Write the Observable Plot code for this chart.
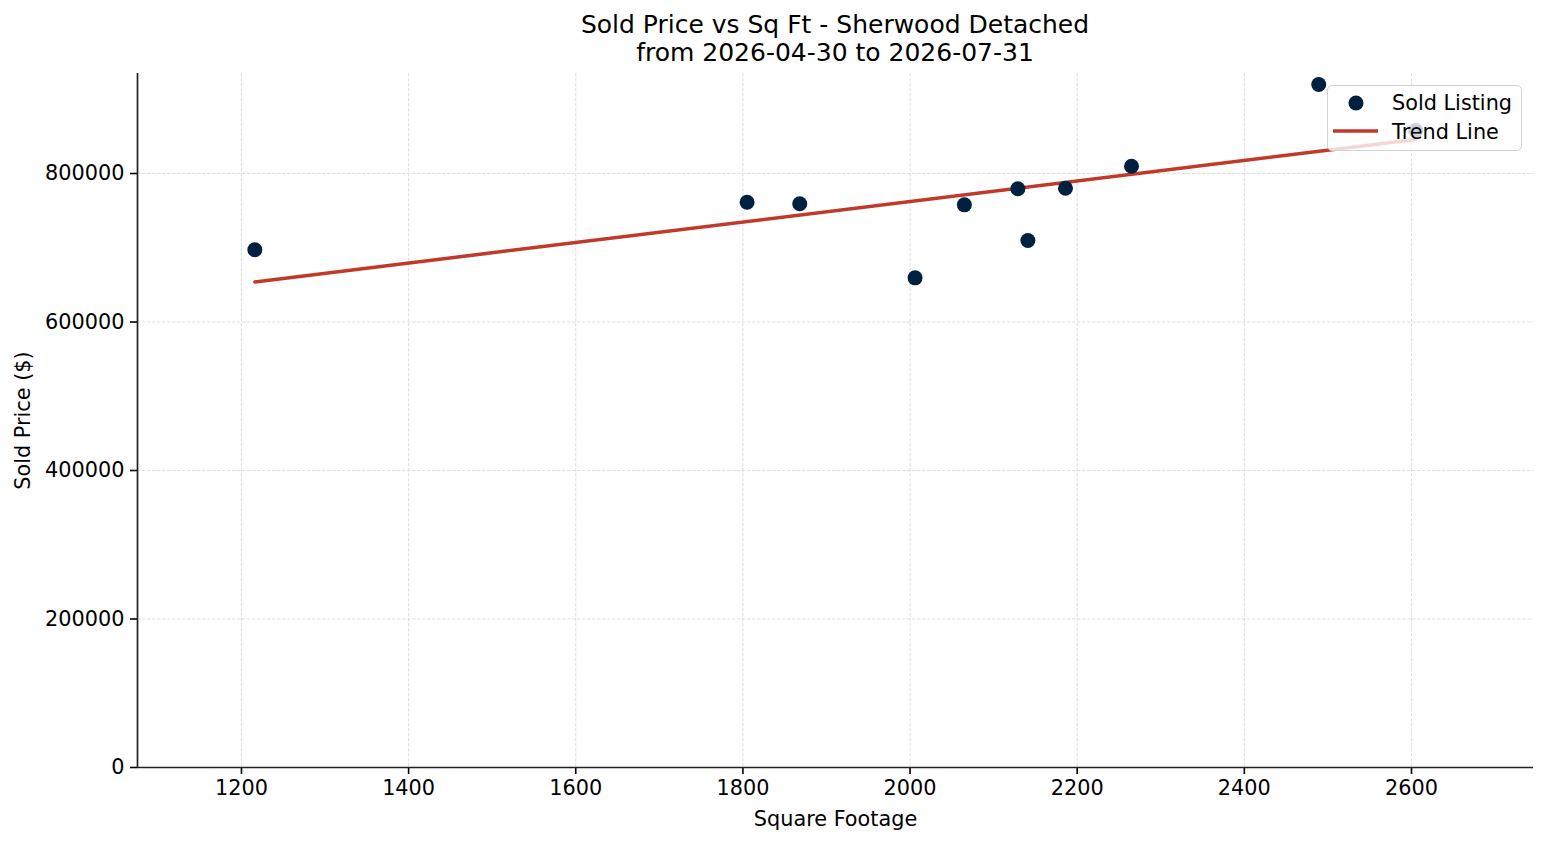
<!DOCTYPE html>
<html>
<head>
<meta charset="utf-8">
<script src="https://cdn.jsdelivr.net/npm/d3@7"></script>
<script src="https://cdn.jsdelivr.net/npm/@observablehq/plot@0.6"></script>
<style>
  html, body { margin: 0; padding: 0; background: #fff; }
  body { font-family: "DejaVu Sans", sans-serif; }
  #wrap { position: relative; width: 1547px; height: 845px; overflow: hidden; }
  #title { box-sizing: border-box; height: 68px; padding-top: 11px; padding-left: 137px; width: 1547px; padding-right: 14px;
           text-align: center; font-size: 25px; line-height: 28px; color: #000; }
  #legend { position: absolute; left: 1327px; top: 85px; width: 195px; height: 66px; box-sizing: border-box;
            border: 1.5px solid #d3d3d3; border-radius: 5px; background: rgba(255,255,255,0.8); font-size: 20.8px; }
  #legend .lbl { position: absolute; left: 64px; line-height: 24px; white-space: nowrap; }
  #legend svg { position: absolute; left: 0; top: 0; }
</style>
</head>
<body>
<div id="wrap">
  <div id="title">Sold Price vs Sq Ft - Sherwood Detached<br>from 2026-04-30 to 2026-07-31</div>
  <div id="chart"></div>
  <div id="legend">
    <svg width="64" height="63">
      <circle cx="28" cy="17" r="7.5" fill="#00203f"></circle>
      <line x1="5" x2="50" y1="45" y2="45" stroke="#c0392b" stroke-width="3.5"></line>
    </svg>
    <span class="lbl" style="top:5px">Sold Listing</span>
    <span class="lbl" style="top:34px">Trend Line</span>
  </div>
</div>
<script>
// Data
const sqft  = [1216, 1805, 1868, 2006, 2065, 2129, 2141, 2186, 2265, 2489, 2605];
const price = [697400, 761300, 759200, 659500, 757800, 779400, 709800, 780200, 809800, 919900, 857900];
const xTicks = [1200, 1400, 1600, 1800, 2000, 2200, 2400, 2600];
const yTicks = [0, 200000, 400000, 600000, 800000];
const xDomain = [1075.6, 2746];
const yDomain = [0, 934700];

const data = sqft.map((x, i) => ({sqft: x, price: price[i]}));

const chart = Plot.plot({
  width: 1547,
  height: 777,
  marginTop: 5,
  marginBottom: 78,
  marginLeft: 137,
  marginRight: 14,
  style: {fontFamily: "DejaVu Sans, sans-serif", fontSize: "20.8px", background: "#fff", color: "#000", overflow: "visible"},
  x: {domain: xDomain},
  y: {domain: yDomain},
  marks: [
    Plot.gridX(xTicks, {stroke: "#d6d6d6", strokeOpacity: 1, strokeWidth: 0.8, strokeDasharray: "3.5,1.5"}),
    Plot.gridY(yTicks, {stroke: "#d6d6d6", strokeOpacity: 1, strokeWidth: 0.8, strokeDasharray: "3.5,1.5"}),
    Plot.axisX(xTicks, {tickSize: 7, tickPadding: 6, strokeWidth: 1.6, label: null, tickFormat: d3.format("d")}),
    Plot.axisY(yTicks, {tickSize: 7, tickPadding: 6, strokeWidth: 1.6, label: null, tickFormat: d3.format("d")}),
    Plot.ruleY([yDomain[0]], {stroke: "#222", strokeWidth: 1.7}),
    Plot.ruleX([xDomain[0]], {stroke: "#222", strokeWidth: 1.7}),
    Plot.linearRegressionY(data, {x: "sqft", y: "price", ci: 0, stroke: "#c0392b", strokeWidth: 3.5}),
    Plot.dot(data, {x: "sqft", y: "price", r: 7.5, fill: "#00203f", stroke: "none"}),
    Plot.text(["Square Footage"], {frameAnchor: "bottom", dy: 52, lineAnchor: "middle", textAnchor: "middle", fill: "#000"}),
    Plot.text(["Sold Price ($)"], {frameAnchor: "left", dx: -114, rotate: -90, lineAnchor: "middle", textAnchor: "middle", fill: "#000"})
  ]
});
document.getElementById("chart").appendChild(chart);
</script>
</body>
</html>
